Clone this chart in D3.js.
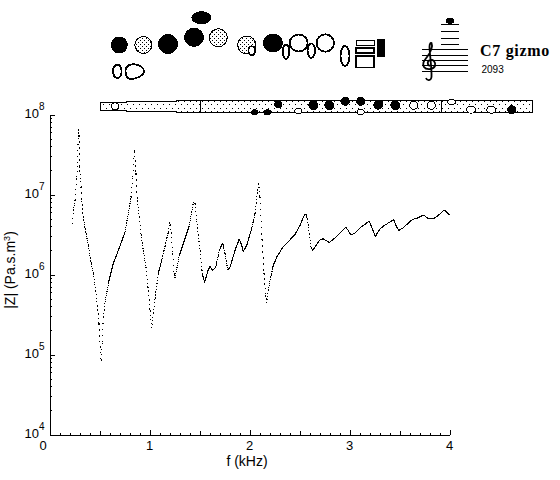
<!DOCTYPE html>
<html><head><meta charset="utf-8">
<script src="https://cdn.jsdelivr.net/npm/d3@7"></script>
<style>html,body{margin:0;padding:0;background:#fff}svg{display:block}text{font-family:"Liberation Sans",Arial,sans-serif;fill:#000}</style>
</head><body><div id="c"></div>
<script>
const freqKHz=[.228,.238,.255,.272,.282,.288,.295,.298,.312,.322,.338,.362,.388,.412,.438,.462,.478,.495,.502,.515,.528,.538,.555,.595,.638,.688,.755,.788,.815,.832,.848,.855,.865,.878,.898,.915,.938,.965,.988,1.005,1.022,1.038,1.055,1.088,1.122,1.188,1.2,1.208,1.215,1.232,1.245,1.255,1.298,1.338,1.398,1.422,1.438,1.455,1.472,1.505,1.528,1.552,1.578,1.605,1.632,1.662,1.698,1.732,1.755,1.782,1.805,1.855,1.898,1.922,1.938,1.972,2.022,2.055,2.078,2.092,2.105,2.122,2.145,2.162,2.172,2.188,2.212,2.238,2.272,2.338,2.405,2.455,2.505,2.538,2.562,2.578,2.598,2.615,2.632,2.665,2.705,2.738,2.798,2.872,2.922,2.962,2.988,3.012,3.055,3.122,3.198,3.222,3.258,3.305,3.372,3.442,3.465,3.492,3.538,3.622,3.688,3.738,3.788,3.838,3.888,3.948,3.998];
const log10Z=[6.634,6.8,6.925,7.216,7.388,7.813,7.738,7.35,7.175,6.925,6.716,6.538,6.363,6.175,6.013,5.8,5.613,5.388,5.175,4.925,5.154,5.466,5.654,5.925,6.138,6.3,6.529,6.763,6.966,7.216,7.55,7.425,7.263,6.925,6.716,6.5,6.3,6.091,5.8,5.55,5.325,5.513,5.7,6.013,6.175,6.529,6.65,6.625,6.525,6.263,6.013,5.954,6.238,6.384,6.613,6.779,6.896,6.888,6.675,6.3,6.013,5.896,6.029,6.1,6.05,6.091,6.3,6.396,6.263,6.059,6.091,6.3,6.446,6.363,6.288,6.363,6.575,6.763,7.013,7.146,6.966,6.513,6.013,5.738,5.638,5.8,5.966,6.113,6.216,6.35,6.434,6.5,6.613,6.716,6.759,6.696,6.513,6.341,6.3,6.363,6.434,6.446,6.4,6.475,6.541,6.591,6.55,6.496,6.516,6.6,6.666,6.591,6.475,6.571,6.634,6.684,6.613,6.55,6.584,6.684,6.709,6.746,6.696,6.696,6.738,6.809,6.746];
const xTickLabels=["0","1","2","3","4"];
const yTickExponents=[4,5,6,7,8];
const noteTitle="C7 gizmo";
const noteFreq="2093";
const xLabel="f (kHz)";

const W=560,H=480;
const svg=d3.select("#c").append("svg").attr("width",W).attr("height",H).attr("shape-rendering","crispEdges");
const defs=svg.append("defs");
const pBig=defs.append("pattern").attr("id","dBig").attr("patternUnits","userSpaceOnUse").attr("width",4).attr("height",4);
pBig.append("rect").attr("width",4).attr("height",4).attr("fill","#fff");
[[0,0],[2,2]].forEach(p=>pBig.append("rect").attr("x",p[0]).attr("y",p[1]).attr("width",1).attr("height",1).attr("fill","#000"));
const pTube=defs.append("pattern").attr("id","dTube").attr("patternUnits","userSpaceOnUse").attr("width",12).attr("height",7).attr("patternTransform","translate(103,103)");
pTube.append("rect").attr("width",12).attr("height",7).attr("fill","#fff");
[[0,1],[6,1],[3,5],[9,5]].forEach(p=>pTube.append("rect").attr("x",p[0]).attr("y",p[1]).attr("width",1).attr("height",1).attr("fill","#000"));

const x=d3.scaleLinear().domain([0,4]).range([49.5,449.5]);
const y=d3.scaleLog().domain([1e4,1e8]).range([434.5,114.5]);

// x axis
const xMinor=d3.range(0,41).map(i=>i/10);
svg.append("g").attr("transform","translate(0,434.5)")
  .call(d3.axisBottom(x).tickValues(xMinor).tickSize(0).tickFormat(""))
  .call(g=>{g.select(".domain").attr("stroke","#000");
    g.selectAll(".tick line").attr("stroke","#000").attr("y2",(d,i)=>i%10===0?-5:(i%5===0?-4:-2));});
xTickLabels.forEach(t=>{
  svg.append("text").attr("x",x(+t)-(t==="0"?6.5:0)).attr("y",450).attr("text-anchor","middle").attr("font-size",13).text(t);
});
svg.append("text").attr("x",247).attr("y",466).attr("text-anchor","middle").attr("font-size",14).text(xLabel);

// y axis
const yMinor=[];
for(let e=4;e<8;e++)for(let m=1;m<10;m++)yMinor.push(m*Math.pow(10,e));
yMinor.push(1e8);
svg.append("g").attr("transform","translate(49.5,0)")
  .call(d3.axisLeft(y).tickValues(yMinor).tickSize(0).tickFormat(""))
  .call(g=>{g.select(".domain").attr("stroke","#000");
    g.selectAll(".tick line").attr("stroke","#000").attr("x2",(d,i)=>i%9===0?5:2.5);});
yTickExponents.forEach(e=>{
  const py=y(Math.pow(10,e));
  svg.append("text").attr("x",39).attr("y",py+3.5).attr("text-anchor","end").attr("font-size",13).text("10");
  svg.append("text").attr("x",39).attr("y",py-4.5).attr("font-size",10).text(e);
});
const yl=svg.append("text").attr("transform","translate(15,270) rotate(-90)").attr("text-anchor","middle").attr("font-size",14);
yl.append("tspan").text("|Z| (Pa.s.m");
yl.append("tspan").attr("font-size",9).attr("dy",-5).text("3");
yl.append("tspan").attr("dy",5).text(")");

// impedance curve: measured samples are evenly spaced in frequency, so steep runs appear as separate dots
const samplePx=0.38;
const pts=freqKHz.map((f,i)=>[x(f),y(Math.pow(10,log10Z[i]))]);
const line=d3.line();
const curve=svg.append("g").attr("fill","none").attr("stroke","#000").attr("stroke-width",1.1);
for(let i=1;i<pts.length;i++){
  const a=pts[i-1],b=pts[i];
  const dx=b[0]-a[0],dy=b[1]-a[1];
  const len=Math.hypot(dx,dy);
  const step=Math.min(len*samplePx/dx,6);
  const p=curve.append("path").attr("d",line([a,b]));
  if(step>1.6){p.attr("stroke-dasharray","1.2 "+(step-1.2).toFixed(2));}
}

// instrument tube
const tube=svg.append("g").attr("stroke","#000").attr("stroke-width",1);
tube.append("path").attr("fill","url(#dTube)")
  .attr("d","M100.5,102.5H126.5V101.5H176.5V100.5H532.5V112.5H176.5V111.5H126.5V110.5H100.5Z");
tube.selectAll("line.sep").data([200.5,441.5]).join("line").attr("x1",d=>d).attr("x2",d=>d).attr("y1",100.5).attr("y2",112.5);
const tubeHoles=[[115,106.3,3.5,3.5,0],[254.7,112.3,3,2.5,1],[267.3,112.3,3.5,2.5,1],[278.3,104.3,3.5,3.5,1],[298.3,111,3.5,2.5,0],[313.3,105.3,4.5,4.5,1],[329.3,105.3,4.5,4.5,1],[345.3,101.3,4,4,1],[360.7,101.3,4,4,1],[360.7,112,3.5,2.5,0],[378.3,104.7,4.5,4.5,1],[395.3,105.3,4.5,4.5,1],[413.7,105.3,4,4,0],[431.3,105.3,4,4,0],[451.7,102,4,2.5,0],[471,109.7,4.5,3.5,0],[491.3,109.7,4.5,3.5,0],[511.7,109.7,4,4,1]];
tubeHoles.forEach(h=>tube.append("ellipse").attr("cx",h[0]).attr("cy",h[1]).attr("rx",h[2]).attr("ry",h[3]).attr("fill",h[4]?"#000":"#fff"));

// fingering diagram
const keyF=svg.append("g").attr("stroke","#000").attr("stroke-width",1.5);
const keys=[[119.3,45,8,8,"k"],[143.3,45,8.5,8.5,"d"],[168,44,9.5,9.5,"k"],[201.3,17.7,9.5,6,"k"],[194,37.3,9.5,9,"k"],[218.3,37.7,9,9,"d"],[246.7,45,9,9,"d"],[251.7,50.7,3.3,4.5,"w"],[273,43,9.5,9,"k"],[286,51.7,3.3,7.2,"w"],[298.7,43,9,8.5,"w"],[311.3,50.7,3.7,7.2,"w"],[325.3,43,8.7,8.7,"w"],[345,56,4.5,10,"w"],[117.3,71.3,4.3,6.7,"w"]];
keys.forEach(k=>keyF.append("ellipse").attr("cx",k[0]).attr("cy",k[1]).attr("rx",k[2]).attr("ry",k[3])
  .attr("fill",k[4]==="k"?"#000":k[4]==="d"?"url(#dBig)":"#fff").attr("stroke-width",k[4]==="w"?1.8:1));
keyF.append("path").attr("d","M125.5,71C125.5,65.5 131,63.5 136,64.5C140,65.2 144,68 144,71C144,75 137,79 131,79C127,79 125.5,75.5 125.5,71Z").attr("fill","#fff").attr("stroke-width",1.8);
[[356,40.5,18,4.5,1],[356,48,18,5,1.8],[356,56,18,11.5,1.8]].forEach(r=>
  keyF.append("rect").attr("x",r[0]).attr("y",r[1]).attr("width",r[2]).attr("height",r[3]).attr("fill","#fff").attr("stroke-width",r[4]));
svg.append("rect").attr("x",377).attr("y",39).attr("width",8).attr("height",18).attr("fill","#000");

// staff
const staff=svg.append("g").attr("stroke","#000").attr("stroke-width",1);
[24.5,31.5,38.5,44.5].forEach(v=>staff.append("line").attr("x1",441).attr("x2",459).attr("y1",v).attr("y2",v));
[49.5,55.5,60.5,65.5,71.5].forEach(v=>staff.append("line").attr("x1",422).attr("x2",468).attr("y1",v).attr("y2",v));
svg.append("ellipse").attr("cx",450).attr("cy",20.7).attr("rx",4.5).attr("ry",3).attr("fill","#000");
svg.append("path").attr("d","M426,78C427,81 431,81 431.5,77C432,70 429.5,52 429.5,47C429.5,43 431,42.5 431.5,43C433,46 431,52 427,57C424,61 422,63 424,67C426,70 433,70 435,66C436,62 433,59 430,60C427,61 427,65 430,66")
  .attr("fill","none").attr("stroke","#000").attr("stroke-width",1.8).attr("shape-rendering","auto");

svg.append("text").attr("x",480).attr("y",56).style("font-family","'Liberation Serif',serif").attr("font-weight","bold").attr("font-size",16).attr("letter-spacing",0.7).text(noteTitle);
svg.append("text").attr("x",481.5).attr("y",73).attr("font-size",10).text(noteFreq);
</script></body></html>
